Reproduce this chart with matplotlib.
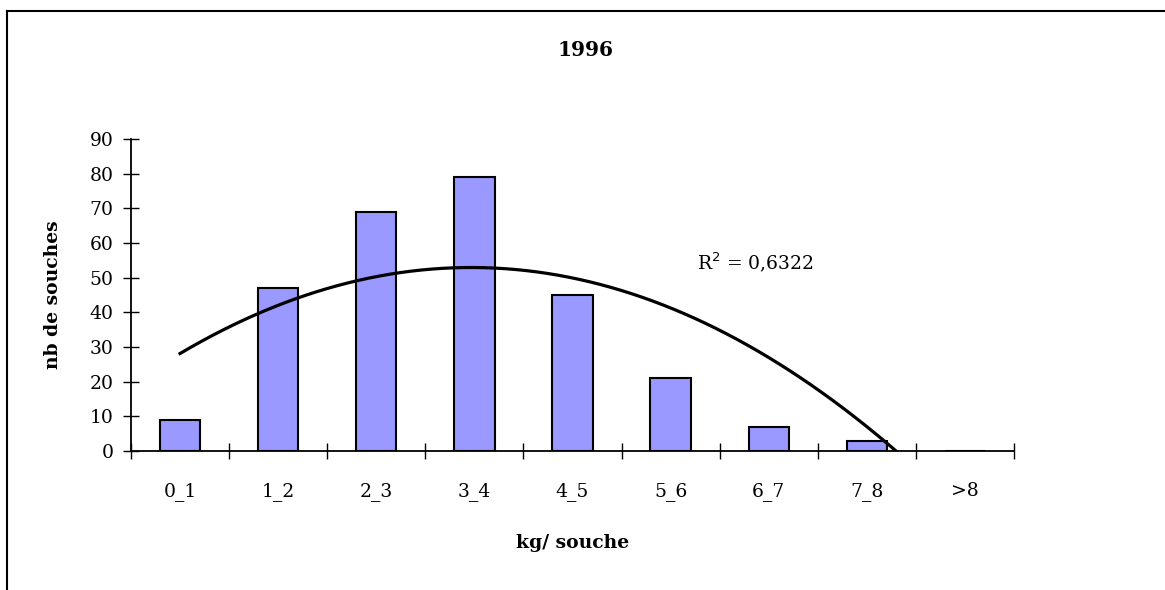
import numpy as np
import matplotlib.pyplot as plt
from matplotlib.lines import Line2D

categories = ["0_1", "1_2", "2_3", "3_4", "4_5", "5_6", "6_7", "7_8", ">8"]
counts = [9, 47, 69, 79, 45, 21, 7, 3, 0]
y_ticks = [0, 10, 20, 30, 40, 50, 60, 70, 80, 90]

plt.rcParams["font.family"] = ["DejaVu Serif"]

fig = plt.figure(figsize=(11.65, 5.90), dpi=100)
ax = fig.add_axes([131 / 1165, 1 - 451 / 590, (1014 - 131) / 1165, (451 - 139) / 590])

x = np.arange(len(categories))
ax.bar(x, counts, width=0.41, color="#9999FF", edgecolor="black", linewidth=1.5, zorder=2)

# polynomial trendline (order 2), Excel style with x = 1..n
xs = x + 1
coef = np.polyfit(xs, counts, 2)
xx = np.linspace(1, len(categories), 300)
ax.plot(xx - 1, np.polyval(coef, xx), color="black", linewidth=2.3, zorder=3)
ax.text(5.27, 54.5, "R$^2$ = 0,6322", fontsize=13.5, ha="left", va="center")

ax.set_xlim(-0.5, len(categories) - 0.5)
ax.set_ylim(0, 90)
ax.set_yticks(y_ticks)
ax.set_xticks(x)
ax.set_xticklabels(categories)
ax.set_xticks(np.arange(-0.5, len(categories)), minor=True)

ax.spines["top"].set_visible(False)
ax.spines["right"].set_visible(False)
for s in ("left", "bottom"):
    ax.spines[s].set_linewidth(1.3)
    ax.spines[s].set_zorder(4)
ax.tick_params(axis="y", direction="inout", length=11.5, width=1, labelsize=13.5, pad=7)
ax.tick_params(axis="x", which="major", length=0, labelsize=13.5, pad=22)
ax.tick_params(axis="x", which="minor", direction="inout", length=11.5, width=1)

ax.set_ylabel("nb de souches", fontsize=13.5, fontweight="bold", labelpad=20)
ax.set_xlabel("kg/ souche", fontsize=13.5, fontweight="bold", labelpad=24)
fig.text(0.503, 0.915, "1996", fontsize=14.5, fontweight="bold", ha="center", va="center")

# chart frame (only top and left edges visible in the crop)
fig.add_artist(Line2D([7 / 1165, 7 / 1165], [0, 1 - 11 / 590], color="black", linewidth=1.5))
fig.add_artist(Line2D([7 / 1165, 1], [1 - 11 / 590, 1 - 11 / 590], color="black", linewidth=1.5))

plt.savefig("out.png")
